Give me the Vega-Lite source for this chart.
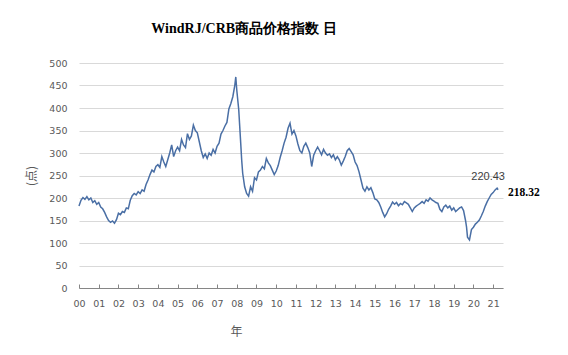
{
  "$schema": "https://vega.github.io/schema/vega-lite/v6.json",
  "autosize": "none",
  "width": 424,
  "height": 225,
  "padding": {"left": 79, "top": 63, "right": 65, "bottom": 67},
  "background": "white",
  "config": {"view": {"stroke": null}},
  "title": {
    "text": "WindRJ/CRB商品价格指数 日",
    "font": "Liberation Serif",
    "fontSize": 14,
    "fontWeight": "bold",
    "color": "#000000",
    "anchor": "middle",
    "frame": "group",
    "dx": -47,
    "offset": 22
  },
  "datasets": {
    "series": [
      {"t":0.0,"v":182},{"t":0.1,"v":195},{"t":0.2,"v":201},{"t":0.3,"v":197},{"t":0.4,"v":203},{"t":0.5,"v":196},{"t":0.6,"v":200},{"t":0.7,"v":190},{"t":0.8,"v":194},{"t":0.9,"v":186},
      {"t":1.0,"v":190},{"t":1.1,"v":180},{"t":1.2,"v":176},{"t":1.3,"v":168},{"t":1.4,"v":158},{"t":1.5,"v":150},{"t":1.6,"v":146},{"t":1.7,"v":149},{"t":1.8,"v":144},{"t":1.9,"v":152},
      {"t":2.0,"v":166},{"t":2.1,"v":163},{"t":2.2,"v":170},{"t":2.3,"v":168},{"t":2.4,"v":178},{"t":2.5,"v":176},{"t":2.6,"v":195},{"t":2.7,"v":205},{"t":2.8,"v":210},{"t":2.9,"v":207},
      {"t":3.0,"v":214},{"t":3.1,"v":210},{"t":3.2,"v":218},{"t":3.3,"v":215},{"t":3.4,"v":230},{"t":3.5,"v":240},{"t":3.6,"v":252},{"t":3.7,"v":262},{"t":3.8,"v":258},{"t":3.9,"v":270},
      {"t":4.0,"v":274},{"t":4.1,"v":268},{"t":4.2,"v":292},{"t":4.3,"v":280},{"t":4.4,"v":270},{"t":4.5,"v":285},{"t":4.6,"v":300},{"t":4.7,"v":318},{"t":4.8,"v":292},{"t":4.9,"v":305},
      {"t":5.0,"v":313},{"t":5.1,"v":305},{"t":5.2,"v":330},{"t":5.3,"v":318},{"t":5.4,"v":312},{"t":5.5,"v":343},{"t":5.6,"v":330},{"t":5.7,"v":338},{"t":5.8,"v":362},{"t":5.9,"v":350},
      {"t":6.0,"v":345},{"t":6.1,"v":325},{"t":6.2,"v":305},{"t":6.3,"v":290},{"t":6.4,"v":298},{"t":6.5,"v":288},{"t":6.6,"v":300},{"t":6.7,"v":295},{"t":6.8,"v":308},{"t":6.9,"v":300},
      {"t":7.0,"v":315},{"t":7.1,"v":322},{"t":7.2,"v":342},{"t":7.3,"v":350},{"t":7.4,"v":360},{"t":7.5,"v":368},{"t":7.6,"v":398},{"t":7.7,"v":410},{"t":7.8,"v":425},{"t":7.9,"v":450},
      {"t":7.95,"v":469},{"t":8.0,"v":440},{"t":8.1,"v":396},{"t":8.2,"v":322},{"t":8.25,"v":284},{"t":8.3,"v":255},{"t":8.4,"v":225},{"t":8.5,"v":210},{"t":8.6,"v":204},{"t":8.7,"v":225},
      {"t":8.8,"v":215},{"t":8.9,"v":245},{"t":9.0,"v":240},{"t":9.1,"v":258},{"t":9.2,"v":262},{"t":9.3,"v":270},{"t":9.4,"v":265},{"t":9.5,"v":288},{"t":9.6,"v":278},{"t":9.7,"v":272},
      {"t":9.8,"v":262},{"t":9.9,"v":252},{"t":10.0,"v":260},{"t":10.1,"v":272},{"t":10.2,"v":290},{"t":10.3,"v":305},{"t":10.4,"v":322},{"t":10.5,"v":335},{"t":10.6,"v":355},{"t":10.7,"v":366},
      {"t":10.8,"v":342},{"t":10.9,"v":350},{"t":11.0,"v":338},{"t":11.1,"v":320},{"t":11.2,"v":305},{"t":11.3,"v":300},{"t":11.4,"v":315},{"t":11.5,"v":322},{"t":11.6,"v":312},{"t":11.7,"v":300},
      {"t":11.8,"v":270},{"t":11.9,"v":295},{"t":12.0,"v":305},{"t":12.1,"v":313},{"t":12.2,"v":305},{"t":12.3,"v":296},{"t":12.4,"v":308},{"t":12.5,"v":300},{"t":12.6,"v":295},{"t":12.7,"v":298},
      {"t":12.8,"v":290},{"t":12.9,"v":296},{"t":13.0,"v":285},{"t":13.1,"v":292},{"t":13.2,"v":285},{"t":13.3,"v":273},{"t":13.4,"v":282},{"t":13.5,"v":292},{"t":13.6,"v":305},{"t":13.7,"v":310},
      {"t":13.8,"v":303},{"t":13.9,"v":296},{"t":14.0,"v":280},{"t":14.1,"v":272},{"t":14.2,"v":258},{"t":14.3,"v":240},{"t":14.4,"v":222},{"t":14.5,"v":215},{"t":14.6,"v":225},{"t":14.7,"v":218},
      {"t":14.8,"v":223},{"t":14.9,"v":212},{"t":15.0,"v":198},{"t":15.1,"v":196},{"t":15.2,"v":190},{"t":15.3,"v":180},{"t":15.4,"v":168},{"t":15.5,"v":158},{"t":15.6,"v":165},{"t":15.7,"v":175},
      {"t":15.8,"v":182},{"t":15.9,"v":191},{"t":16.0,"v":186},{"t":16.1,"v":190},{"t":16.2,"v":183},{"t":16.3,"v":188},{"t":16.4,"v":185},{"t":16.5,"v":192},{"t":16.6,"v":189},{"t":16.7,"v":186},
      {"t":16.8,"v":178},{"t":16.9,"v":170},{"t":17.0,"v":178},{"t":17.1,"v":182},{"t":17.2,"v":185},{"t":17.3,"v":188},{"t":17.4,"v":192},{"t":17.5,"v":188},{"t":17.6,"v":196},{"t":17.7,"v":193},
      {"t":17.8,"v":200},{"t":17.9,"v":196},{"t":18.0,"v":193},{"t":18.1,"v":190},{"t":18.2,"v":188},{"t":18.3,"v":175},{"t":18.4,"v":170},{"t":18.5,"v":180},{"t":18.6,"v":184},{"t":18.7,"v":178},
      {"t":18.8,"v":182},{"t":18.9,"v":173},{"t":19.0,"v":178},{"t":19.1,"v":170},{"t":19.2,"v":174},{"t":19.3,"v":178},{"t":19.4,"v":180},{"t":19.5,"v":172},{"t":19.6,"v":150},{"t":19.65,"v":136},
      {"t":19.7,"v":113},{"t":19.8,"v":107},{"t":19.9,"v":130},{"t":20.0,"v":135},{"t":20.1,"v":142},{"t":20.2,"v":146},{"t":20.3,"v":151},{"t":20.4,"v":160},{"t":20.5,"v":170},{"t":20.6,"v":182},
      {"t":20.7,"v":192},{"t":20.8,"v":200},{"t":20.9,"v":208},{"t":21.0,"v":212},{"t":21.1,"v":218},{"t":21.2,"v":222},{"t":21.25,"v":218.32}
    ],
    "labels": [
      {"t":21.05,"v":220.43,"label":"220.43","kind":"high"},
      {"t":21.25,"v":218.32,"label":"218.32","kind":"last"}
    ]
  },
  "encoding": {
    "x": {
      "field": "t", "type": "quantitative",
      "scale": {"domain": [0, 21.5], "nice": false, "zero": false},
      "axis": {
        "values": [0,1,2,3,4,5,6,7,8,9,10,11,12,13,14,15,16,17,18,19,20,21],
        "labelExpr": "datum.value < 10 ? '0' + datum.value : '' + datum.value",
        "grid": false,
        "domainColor": "#868686",
        "tickColor": "#868686",
        "tickSize": -4,
        "labelPadding": 14,
        "labelFont": "DejaVu Sans",
        "labelFontSize": 9.5,
        "labelColor": "#595959",
        "labelFlush": false,
        "labelOverlap": false,
        "title": "年",
        "titleFont": "Noto Sans CJK SC",
        "titleFontSize": 12,
        "titleFontWeight": "normal",
        "titleColor": "#595959",
        "titleX": 157,
        "titleY": 43,
        "titleAlign": "center",
        "titleBaseline": "middle"
      }
    },
    "y": {
      "field": "v", "type": "quantitative",
      "scale": {"domain": [0, 500], "nice": false},
      "axis": {
        "values": [0,50,100,150,200,250,300,350,400,450,500],
        "grid": true,
        "gridColor": "#d9d9d9",
        "domain": false,
        "ticks": false,
        "labelPadding": 12,
        "labelOverlap": false,
        "labelFont": "DejaVu Sans",
        "labelFontSize": 9.5,
        "labelColor": "#595959",
        "title": "(点)",
        "titleFont": "Noto Sans CJK SC",
        "titleFontSize": 12,
        "titleFontWeight": "normal",
        "titleColor": "#595959",
        "titlePadding": 10
      }
    }
  },
  "layer": [
    {
      "data": {"name": "series"},
      "mark": {"type": "line", "color": "#4a6fa5", "strokeWidth": 1.5, "clip": false}
    },
    {
      "data": {"name": "labels"},
      "transform": [{"filter": "datum.kind == 'high'"}],
      "mark": {"type": "text", "font": "Liberation Sans", "fontSize": 11, "color": "#404040", "dx": -6, "dy": -12, "align": "center", "baseline": "middle"},
      "encoding": {"text": {"field": "label"}}
    },
    {
      "data": {"name": "labels"},
      "transform": [{"filter": "datum.kind == 'last'"}],
      "mark": {"type": "text", "font": "Liberation Serif", "fontSize": 11.5, "fontWeight": "bold", "color": "#000000", "dx": 10, "dy": 3, "align": "left", "baseline": "middle"},
      "encoding": {"text": {"field": "label"}}
    }
  ]
}
